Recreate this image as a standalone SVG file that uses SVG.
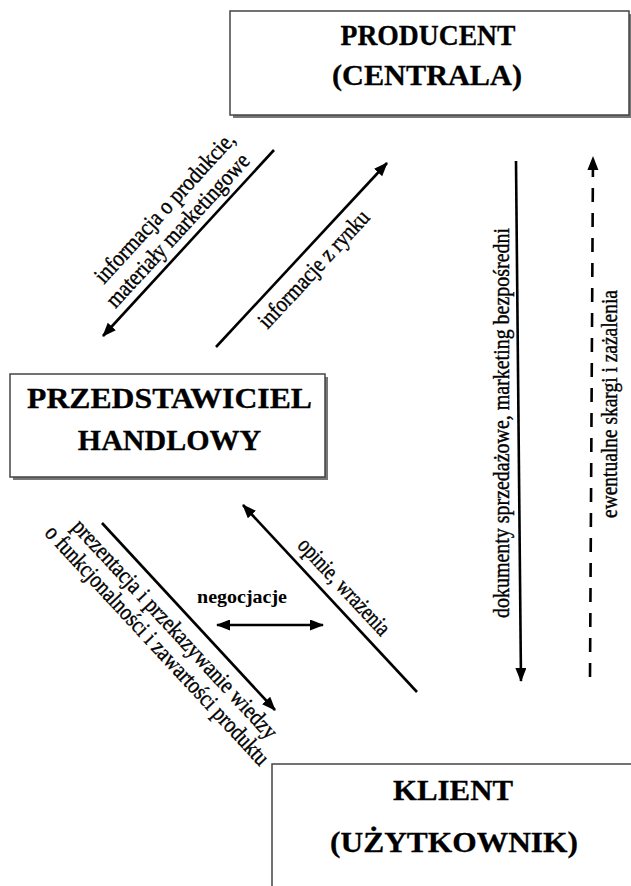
<svg xmlns="http://www.w3.org/2000/svg" width="631" height="886" viewBox="0 0 631 886">
<style>
.box{fill:#fff;stroke:#444;stroke-width:1.5}
.shadow{fill:#777}
.title{font-family:"Liberation Serif","Times New Roman",serif;font-weight:bold;font-size:30px;fill:#000;text-anchor:middle;stroke:#000;stroke-width:0.3}
.lbl{font-family:"Liberation Serif","Times New Roman",serif;font-size:23.5px;fill:#000;text-anchor:middle;stroke:#000;stroke-width:0.4}
.blbl{font-family:"Liberation Serif","Times New Roman",serif;font-weight:bold;font-size:19px;fill:#000;text-anchor:middle}
.ar{stroke:#000;stroke-width:2.6;fill:none}
</style>
<defs>
<marker id="ah" markerUnits="userSpaceOnUse" markerWidth="14" markerHeight="12" refX="13" refY="5.5" orient="auto">
<path d="M0,0 L14,5.5 L0,11 z" fill="#000"/>
</marker>
<marker id="ahs" markerUnits="userSpaceOnUse" markerWidth="14" markerHeight="12" refX="1" refY="5.5" orient="auto">
<path d="M14,0 L0,5.5 L14,11 z" fill="#000"/>
</marker>
</defs>
<rect width="631" height="886" fill="#fff"/>

<g id="producent">
<rect class="shadow" x="233" y="14" width="399" height="104"/>
<rect class="box" x="230" y="11" width="399" height="104"/>
<text class="title" x="428" y="45" textLength="175" lengthAdjust="spacingAndGlyphs">PRODUCENT</text>
<text class="title" x="427" y="85" textLength="190" lengthAdjust="spacingAndGlyphs">(CENTRALA)</text>
</g>

<g id="przedstawiciel">
<rect class="shadow" x="13" y="377" width="315" height="103"/>
<rect class="box" x="10" y="374" width="315" height="103"/>
<text class="title" x="169.5" y="408" textLength="285" lengthAdjust="spacingAndGlyphs">PRZEDSTAWICIEL</text>
<text class="title" x="169.5" y="450">HANDLOWY</text>
</g>

<g id="klient">
<rect class="box" x="272" y="764" width="380" height="140"/>
<text class="title" x="453" y="800" textLength="120" lengthAdjust="spacingAndGlyphs">KLIENT</text>
<text class="title" x="454" y="852" textLength="248" lengthAdjust="spacingAndGlyphs">(UŻYTKOWNIK)</text>
</g>

<g id="connectors">
<line class="ar" x1="274" y1="150" x2="103" y2="336" marker-end="url(#ah)"/>
<line class="ar" x1="216" y1="347" x2="387" y2="163" marker-end="url(#ah)"/>
<line class="ar" x1="102" y1="523" x2="275" y2="710" marker-end="url(#ah)"/>
<line class="ar" x1="417" y1="692" x2="243" y2="505" marker-end="url(#ah)"/>
<line class="ar" x1="217" y1="625" x2="323" y2="625" marker-start="url(#ahs)" marker-end="url(#ah)"/>
<line class="ar" x1="516" y1="161" x2="521" y2="681" marker-end="url(#ah)"/>
<line class="ar" x1="590" y1="677" x2="593" y2="157" stroke-width="3" stroke-dasharray="14 11" marker-end="url(#ah)"/>
</g>

<g id="labels">
<g transform="translate(188.5,243) rotate(-47.4)">
<text class="lbl" x="10" y="-34" textLength="196" lengthAdjust="spacingAndGlyphs">informacja o produkcie,</text>
<text class="lbl" x="2" y="-9" textLength="200" lengthAdjust="spacingAndGlyphs">materiały marketingowe</text>
</g>
<g transform="translate(301.5,255) rotate(-47.1)">
<text class="lbl" x="-2" y="26" textLength="152" lengthAdjust="spacingAndGlyphs">informacje z rynku</text>
</g>
<g transform="translate(188.5,616.5) rotate(47.2)">
<text class="lbl" x="0" y="26" textLength="290" lengthAdjust="spacingAndGlyphs">prezentacja i przekazywanie wiedzy</text>
<text class="lbl" x="0" y="50" textLength="318" lengthAdjust="spacingAndGlyphs">o funkcjonalności i zawartości produktu</text>
</g>
<g transform="translate(330,598.5) rotate(47.1)">
<text class="lbl" x="1" y="-11" textLength="124" lengthAdjust="spacingAndGlyphs">opinie, wrażenia</text>
</g>
<text class="blbl" x="242" y="603" textLength="90" lengthAdjust="spacingAndGlyphs">negocjacje</text>
<g transform="translate(509,423) rotate(-90)">
<text class="lbl" x="0" y="0" textLength="390" lengthAdjust="spacingAndGlyphs">dokumenty sprzedażowe,  marketing bezpośredni</text>
</g>
<g transform="translate(617,404) rotate(-90)">
<text class="lbl" x="0" y="0" textLength="228" lengthAdjust="spacingAndGlyphs">ewentualne skargi i zażalenia</text>
</g>
</g>
</svg>
